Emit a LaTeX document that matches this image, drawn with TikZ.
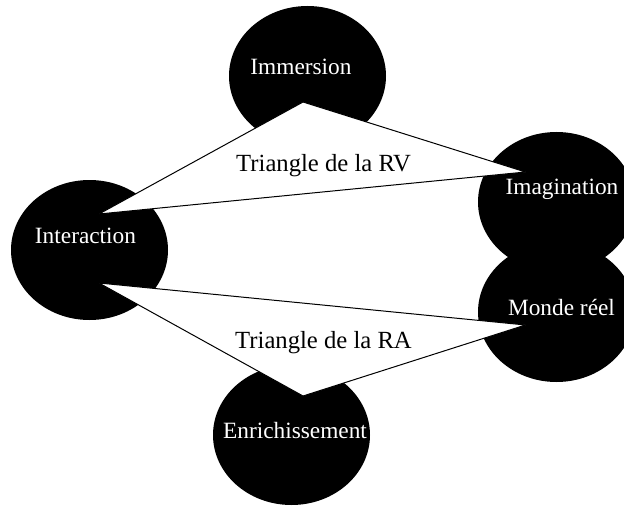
\documentclass[tikz,border=0pt]{standalone}
\usepackage{fontspec}
\setmainfont{Liberation Serif}
\usetikzlibrary{calc}
\tikzset{
	blob/.style={fill=black},
	tri/.style={draw=black, fill=white, line width=0.75pt, line join=miter},
	inlabel/.style={text=white, font=\fontsize{17.5}{20}\selectfont, anchor=base, inner sep=0pt},
	trilabel/.style={text=black, font=\fontsize{18.5}{22}\selectfont, anchor=base, inner sep=0pt}
}
\begin{document}
\begin{tikzpicture}[x=0.75pt, y=-0.75pt]
		%%%%% START %%%%%
		\useasboundingbox (0, 0) rectangle (624, 506);
		
		\fill[blob] (307.5, 76) ellipse (58.875pt and 52.5pt);
		\fill[blob] (89.5, 250) ellipse (58.875pt and 52.5pt);
		\fill[blob] (556.5, 202) ellipse (58.875pt and 52.5pt);
		\fill[blob] (556.5, 312) ellipse (58.875pt and 52.5pt);
		\fill[blob] (291.5, 435) ellipse (58.875pt and 52.5pt);
		
		\coordinate (rvtop) at (303, 102);
		\coordinate (rvright) at (525.5, 172);
		\coordinate (rvleft) at (99, 214);
		\coordinate (raleft) at (99, 283);
		\coordinate (raright) at (525.5, 325);
		\coordinate (rabottom) at (303, 396);
		
		\draw[tri] (rvtop) -- (rvright) -- (rvleft) -- cycle;
		\draw[tri] (raleft) -- (raright) -- (rabottom) -- cycle;
		
		\node[inlabel] (immersion) at (301, 75) {Immersion};
		\node[inlabel] (interaction) at (85.5, 243.3) {Interaction};
		\node[inlabel] (imagination) at (562, 194) {Imagination};
		\node[inlabel] (monde) at (561.5, 315) {Monde réel};
		\node[inlabel] (enrich) at (295, 438.3) {Enrichissement};
		
		\node[trilabel] (rv) at (323.5, 171.7) {Triangle de la RV};
		\node[trilabel] (ra) at (323.5, 348) {Triangle de la RA};
		
		%%%%% END %%%%%
	\end{tikzpicture}
\end{document}
